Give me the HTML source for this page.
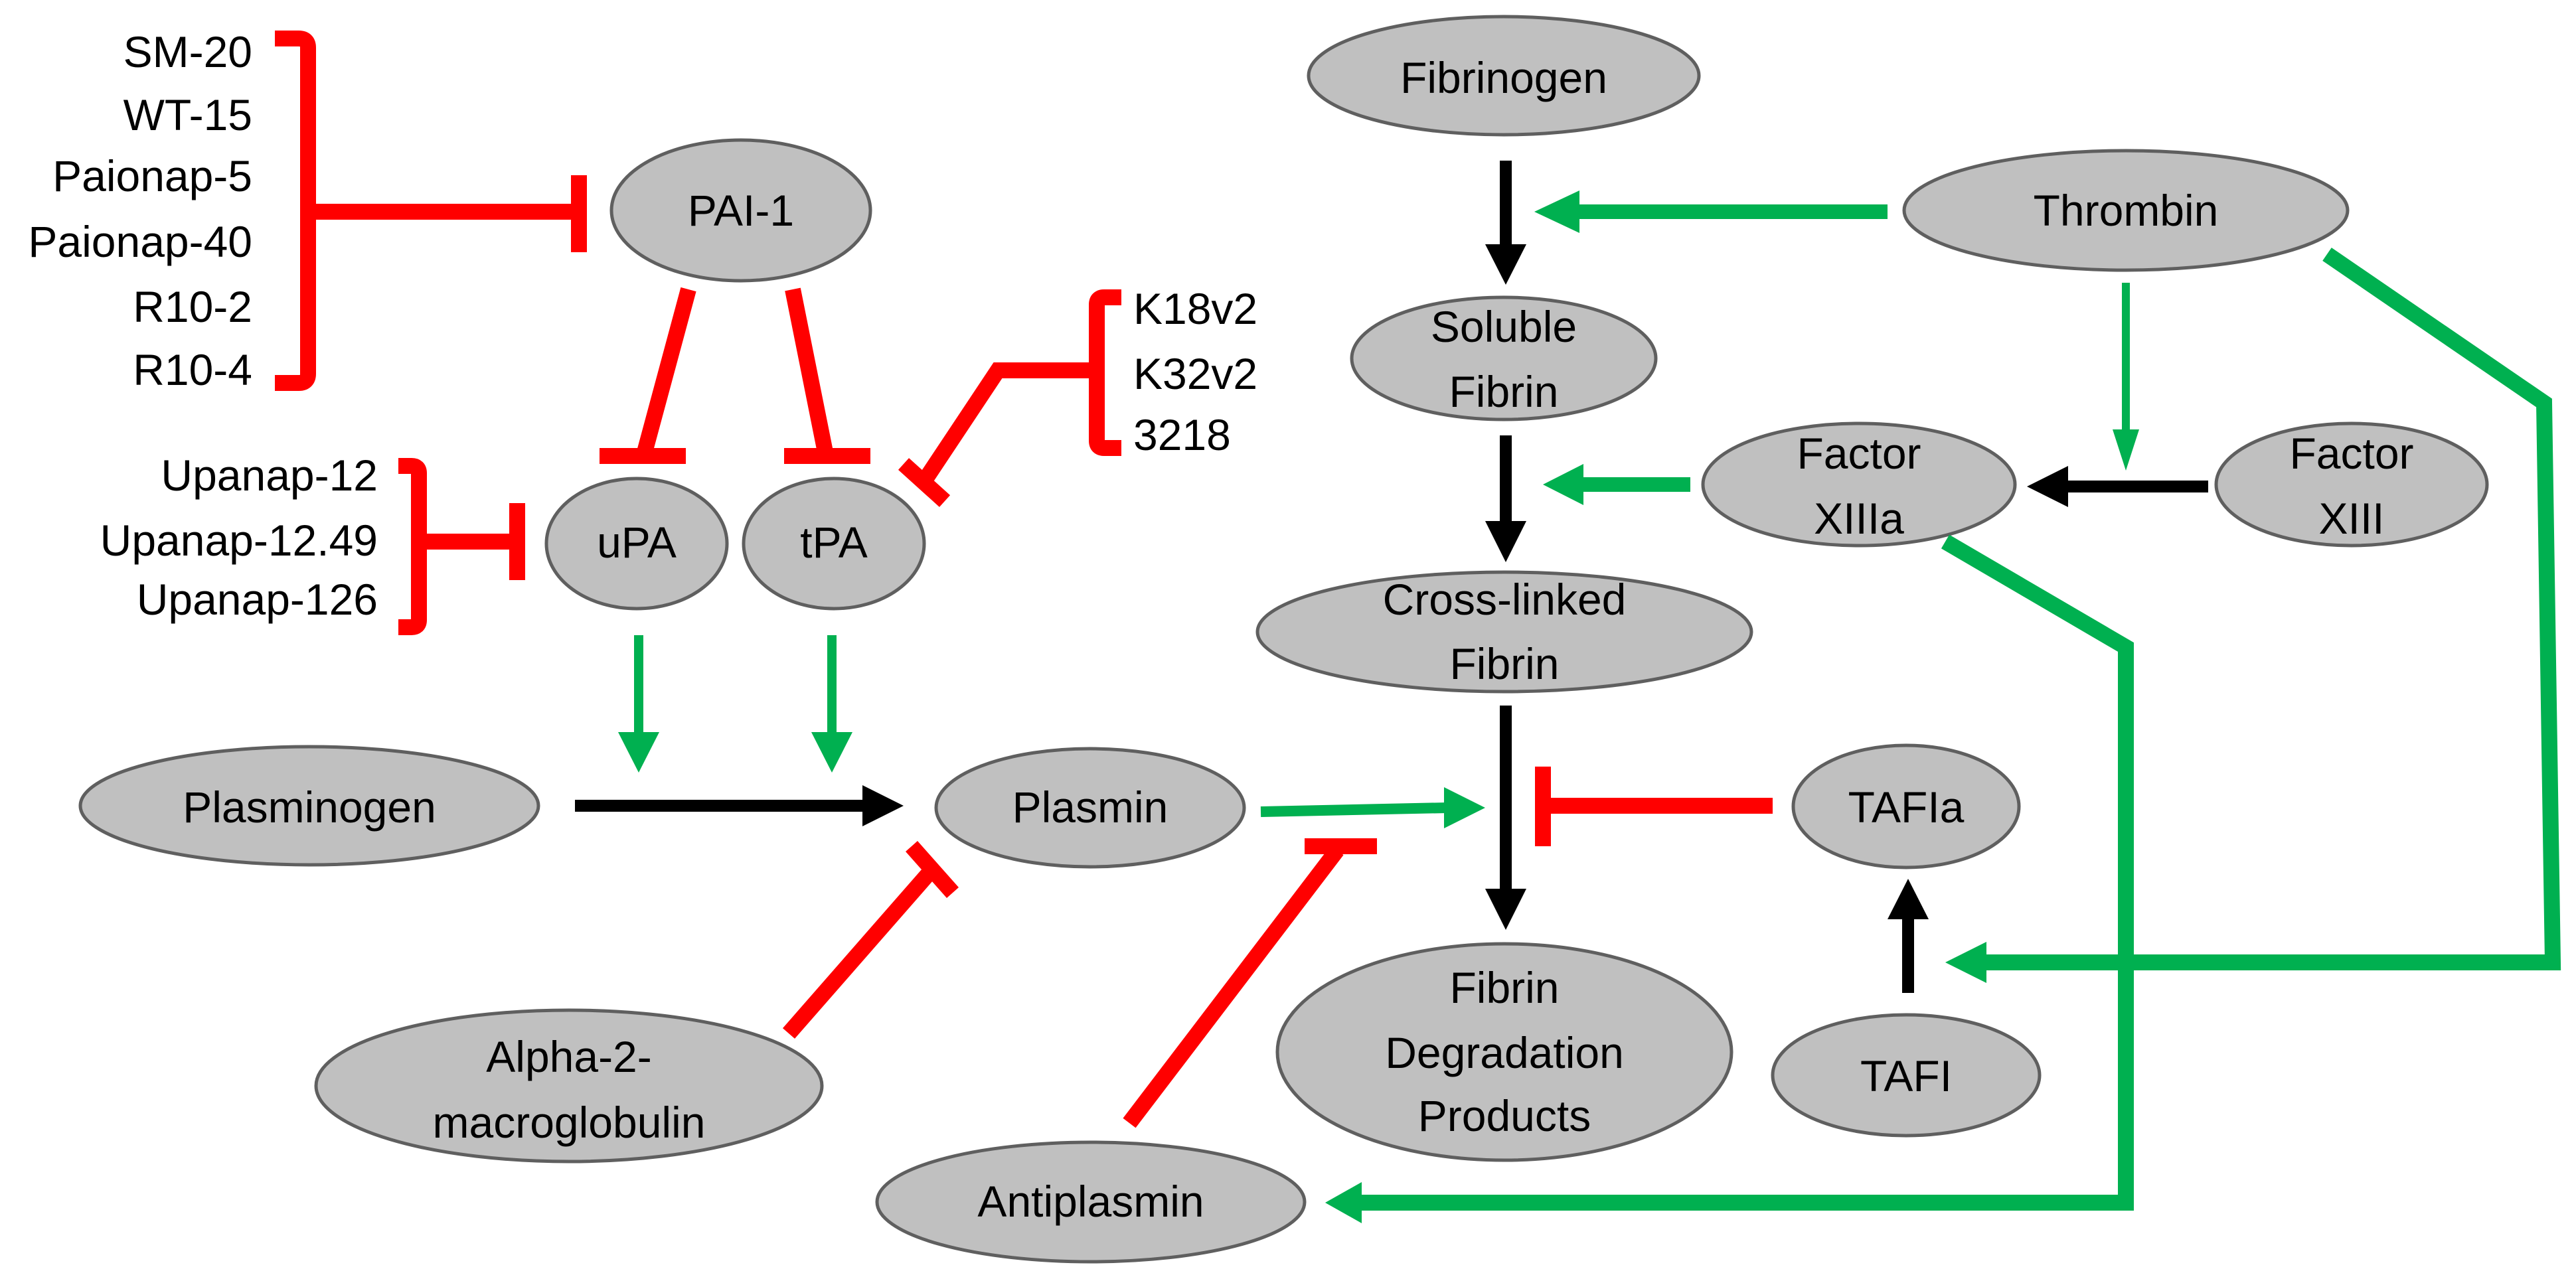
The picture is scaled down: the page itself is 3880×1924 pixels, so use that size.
<!DOCTYPE html>
<html><head><meta charset="utf-8"><style>
html,body{margin:0;padding:0;background:#fff;}
svg{display:block;}
text{font-family:"Liberation Sans",sans-serif;font-size:66px;fill:#000;}
.n{text-anchor:middle;}
.r{text-anchor:end;}
</style></head><body>
<svg width="3880" height="1924" viewBox="0 0 3880 1924" xmlns="http://www.w3.org/2000/svg">
<g fill="#c0c0c0" stroke="#5f5f5f" stroke-width="5">
<ellipse cx="1116" cy="317" rx="195" ry="106"/>
<ellipse cx="959" cy="819" rx="136" ry="98"/>
<ellipse cx="1256" cy="819" rx="136" ry="98"/>
<ellipse cx="466" cy="1214" rx="345" ry="89"/>
<ellipse cx="1642" cy="1217" rx="232" ry="89"/>
<ellipse cx="857" cy="1636" rx="381" ry="114"/>
<ellipse cx="1643" cy="1811" rx="322" ry="90"/>
<ellipse cx="2265" cy="114" rx="294" ry="89"/>
<ellipse cx="2265" cy="540" rx="229" ry="92"/>
<ellipse cx="2266" cy="952" rx="372" ry="90"/>
<ellipse cx="2266" cy="1585" rx="342" ry="163"/>
<ellipse cx="3202" cy="317" rx="334" ry="90"/>
<ellipse cx="2800" cy="730" rx="235" ry="92"/>
<ellipse cx="3542" cy="730" rx="204" ry="92"/>
<ellipse cx="2871" cy="1215" rx="170" ry="92"/>
<ellipse cx="2871" cy="1620" rx="201" ry="91"/>
</g>
<g fill="none" stroke="#ff0000" stroke-width="24">
<path d="M414 58 H450 Q464 58 464 72 V563 Q464 577 450 577 H414"/>
<path d="M464 319 H872"/>
<path d="M872 264 V380"/>
<path d="M1037 436 L971 681"/><path d="M903 687 H1033"/>
<path d="M1194 436 L1243 681"/><path d="M1181 687 H1311"/>
<path d="M600 702 H620 Q631 702 631 713 V934 Q631 945 620 945 H600"/>
<path d="M631 816 H779"/><path d="M779 758 V874"/>
<path d="M1689 448 H1663 Q1652 448 1652 459 V664 Q1652 675 1663 675 H1689"/>
<path d="M1652 558 H1503 L1390 728"/><path d="M1361 699 L1423 755"/>
<path d="M1188 1557 L1404 1310"/><path d="M1373 1275 L1435 1345"/>
<path d="M1701 1692 L2014 1281"/><path d="M1965 1275 H2074"/>
<path d="M2670 1214 H2324"/><path d="M2324 1155 V1275"/>
</g>
<g fill="none" stroke="#00b050">
<path d="M962 957 V1110" stroke-width="14"/>
<path d="M1253 957 V1110" stroke-width="14"/>
<path d="M1899 1223 L2180 1217" stroke-width="16"/>
<path d="M2843 319 H2375" stroke-width="22"/>
<path d="M3202 426 V652" stroke-width="12"/>
<path d="M2546 730 H2380" stroke-width="22"/>
<path d="M3505 383 L3832 607 L3845 1450 H2988" stroke-width="24"/>
<path d="M2930 816 L3202 975 V1812 H2046" stroke-width="24"/>
</g>
<g fill="#00b050">
<polygon points="931,1103 993,1103 962,1164"/>
<polygon points="1222,1103 1284,1103 1253,1164"/>
<polygon points="2175,1186 2175,1248 2237,1217"/>
<polygon points="2379,287 2379,351 2311,319"/>
<polygon points="3182,647 3222,647 3202,709"/>
<polygon points="2385,699 2385,761 2324,730"/>
<polygon points="2992,1419 2992,1481 2930,1450"/>
<polygon points="2051,1781 2051,1843 1996,1812"/>
</g>
<g fill="none" stroke="#000" stroke-width="18">
<path d="M866 1214 H1305"/>
<path d="M2268 242 V372"/>
<path d="M2268 656 V790"/>
<path d="M2268 1063 V1345"/>
<path d="M3326 733 H3110"/>
<path d="M2874 1496 V1380"/>
</g>
<g fill="#000">
<polygon points="1299,1183 1299,1245 1361,1214"/>
<polygon points="2237,368 2299,368 2268,429"/>
<polygon points="2237,785 2299,785 2268,847"/>
<polygon points="2237,1339 2299,1339 2268,1401"/>
<polygon points="3115,702 3115,764 3053,733"/>
<polygon points="2843,1385 2905,1385 2874,1324"/>
</g>
<text class="r" x="380" y="101">SM-20</text>
<text class="r" x="380" y="196">WT-15</text>
<text class="r" x="380" y="288">Paionap-5</text>
<text class="r" x="380" y="387">Paionap-40</text>
<text class="r" x="380" y="485">R10-2</text>
<text class="r" x="380" y="580">R10-4</text>
<text class="r" x="569" y="739">Upanap-12</text>
<text class="r" x="569" y="837">Upanap-12.49</text>
<text class="r" x="569" y="926">Upanap-126</text>
<text x="1707" y="488">K18v2</text>
<text x="1707" y="586">K32v2</text>
<text x="1707" y="678">3218</text>
<text class="n" x="1116" y="340">PAI-1</text>
<text class="n" x="959" y="840">uPA</text>
<text class="n" x="1256" y="840">tPA</text>
<text class="n" x="466" y="1239">Plasminogen</text>
<text class="n" x="1642" y="1239">Plasmin</text>
<text class="n" x="857" y="1615">Alpha-2-</text>
<text class="n" x="857" y="1714">macroglobulin</text>
<text class="n" x="1643" y="1833">Antiplasmin</text>
<text class="n" x="2265" y="140">Fibrinogen</text>
<text class="n" x="2265" y="515">Soluble</text>
<text class="n" x="2265" y="613">Fibrin</text>
<text class="n" x="2266" y="926">Cross-linked</text>
<text class="n" x="2266" y="1023">Fibrin</text>
<text class="n" x="2266" y="1511">Fibrin</text>
<text class="n" x="2266" y="1609">Degradation</text>
<text class="n" x="2266" y="1704">Products</text>
<text class="n" x="3202" y="340">Thrombin</text>
<text class="n" x="2800" y="706">Factor</text>
<text class="n" x="2800" y="804">XIIIa</text>
<text class="n" x="3542" y="706">Factor</text>
<text class="n" x="3542" y="804">XIII</text>
<text class="n" x="2871" y="1239">TAFIa</text>
<text class="n" x="2871" y="1644">TAFI</text>
</svg>
</body></html>
